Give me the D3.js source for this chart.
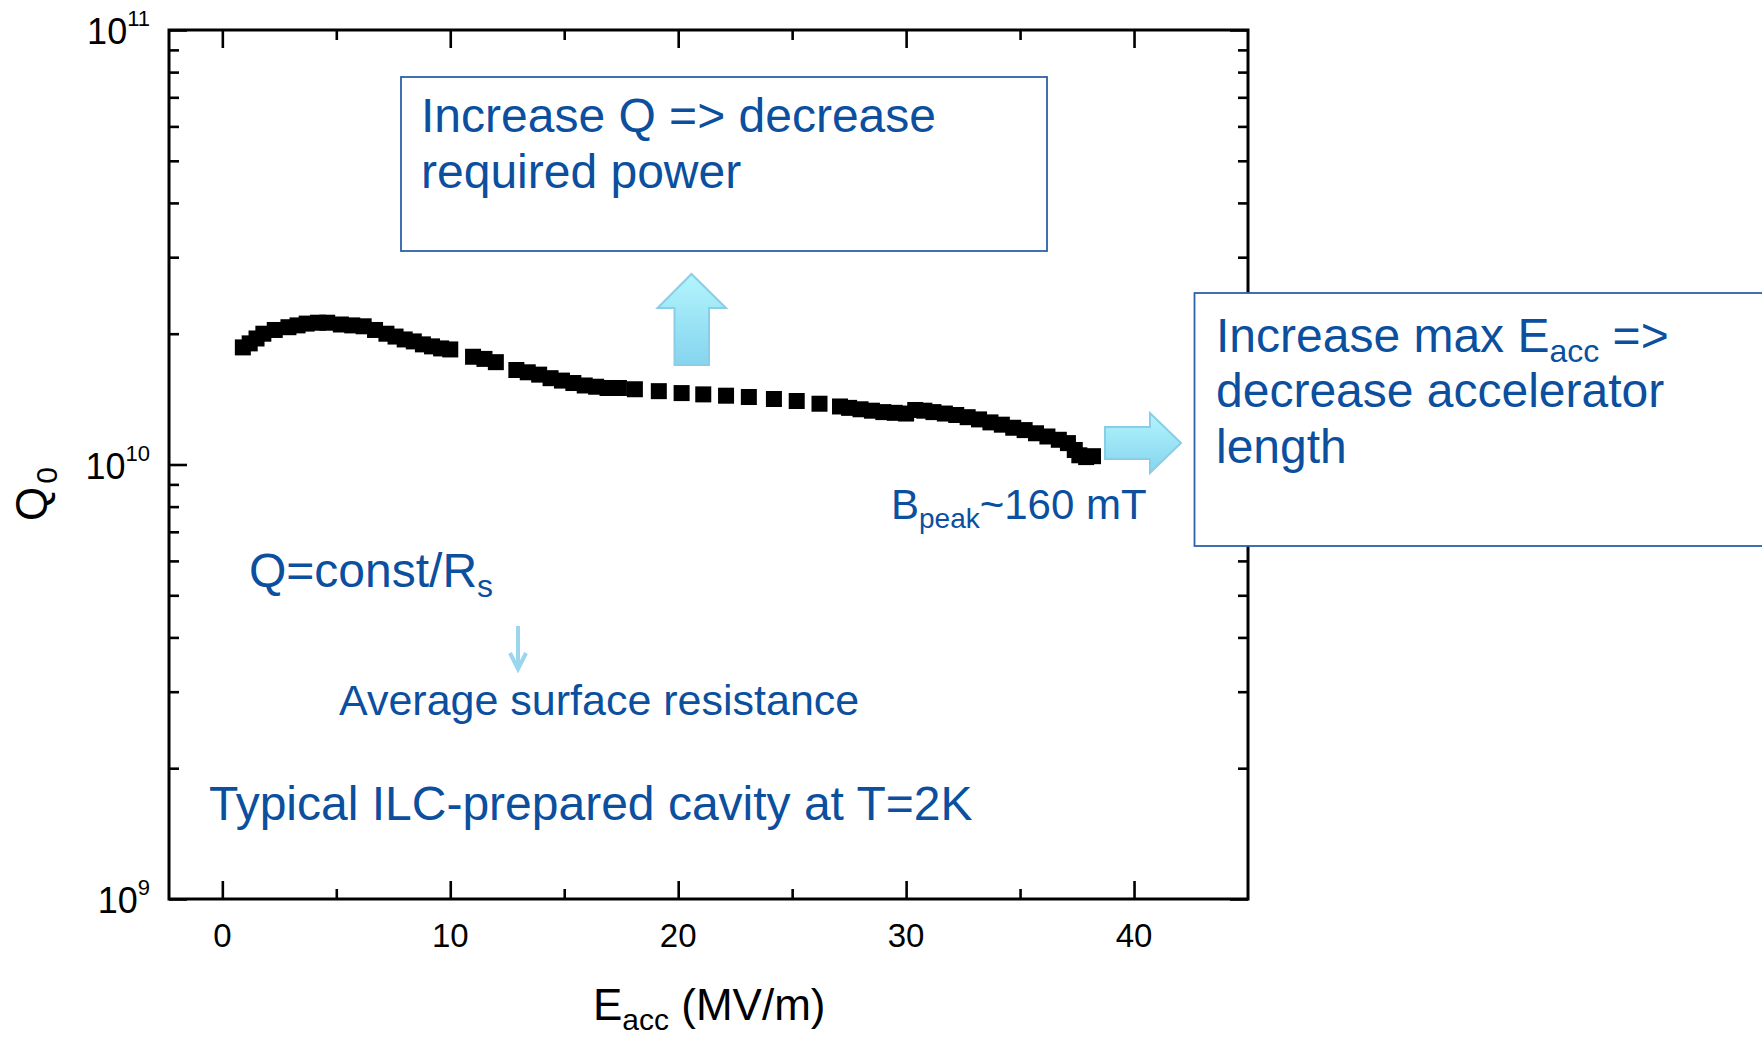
<!DOCTYPE html>
<html>
<head>
<meta charset="utf-8">
<script src="https://cdn.jsdelivr.net/npm/d3@7"></script>
<style>
  html, body { margin: 0; padding: 0; background: #ffffff; }
  svg { display: block; }
  text { font-family: "Liberation Sans", Arial, Helvetica, sans-serif; }
</style>
</head>
<body>
<svg id="chart" width="1762" height="1038"></svg>
<script>
// Q0 vs Eacc for an ILC-style cavity at 2 K (Q in units of 1e10)
const eacc = [0.9, 1.2, 1.5, 1.8, 2.3, 2.9, 3.3, 3.7, 4.2, 4.6, 5.2, 5.7, 6.2, 6.7, 7.2, 7.6, 8.0, 8.4, 8.8, 9.2, 9.6, 10.0,
              11.0, 11.5, 12.0, 12.9, 13.4, 13.9, 14.4, 14.9, 15.4, 15.9, 16.4, 16.9, 17.4, 18.1, 19.15, 20.15,
              21.1, 22.1, 23.1, 24.2, 25.2, 26.2, 27.1, 27.5, 28.0, 28.5, 29.0, 29.5, 30.0, 30.4, 30.8, 31.2, 31.7, 32.2,
              32.7, 33.2, 33.7, 34.2, 34.7, 35.2, 35.7, 36.2, 36.7, 37.1, 37.4, 37.6, 37.9, 38.2];
const q0e10 = [1.86, 1.90, 1.95, 2.00, 2.04, 2.07, 2.09, 2.11, 2.12, 2.12, 2.10, 2.09, 2.08, 2.04, 2.00, 1.97, 1.94, 1.92, 1.89, 1.87, 1.85, 1.84,
               1.77, 1.75, 1.72, 1.65, 1.63, 1.61, 1.58, 1.56, 1.54, 1.52, 1.51, 1.50, 1.50, 1.49, 1.475, 1.46,
               1.45, 1.44, 1.43, 1.415, 1.40, 1.38, 1.36, 1.35, 1.34, 1.33, 1.32, 1.315, 1.31, 1.335, 1.33, 1.32, 1.31, 1.30,
               1.285, 1.27, 1.25, 1.235, 1.215, 1.20, 1.18, 1.16, 1.14, 1.12, 1.08, 1.05, 1.04, 1.045];

const xMajorTicks = [0, 10, 20, 30, 40];
const xMinorTicks = [5, 15, 25, 35];
const yDecades = [1e9, 1e10, 1e11];
const yDecadeLabels = [["10", "9"], ["10", "10"], ["10", "11"]];

const svg = d3.select("#chart");
const plot = { left: 169, right: 1248, top: 30, bottom: 899 };

const x = d3.scaleLinear().domain([-2.34, 45]).range([plot.left, plot.right]);
const y = d3.scaleLog().domain([1e9, 1e11]).range([plot.bottom, plot.top]);

const yMinor = [];
[1e9, 1e10].forEach(d => { for (let k = 2; k <= 9; k++) yMinor.push(d * k); });

const BLUE = "#0B4F9E";

// ---- axes: inward ticks on all four sides ----
function styleAxis(g) {
  g.select(".domain").remove();
  g.selectAll(".tick line").attr("stroke", "#000").attr("stroke-width", 2.6);
  g.selectAll(".tick text").remove();
}
const MAJ = 18, MIN = 10;
svg.append("g").attr("transform", `translate(0,${plot.bottom})`)
  .call(d3.axisBottom(x).tickValues(xMajorTicks).tickSize(-MAJ)).call(styleAxis);
svg.append("g").attr("transform", `translate(0,${plot.bottom})`)
  .call(d3.axisBottom(x).tickValues(xMinorTicks).tickSize(-MIN)).call(styleAxis);
svg.append("g").attr("transform", `translate(0,${plot.top})`)
  .call(d3.axisTop(x).tickValues(xMajorTicks).tickSize(-MAJ)).call(styleAxis);
svg.append("g").attr("transform", `translate(0,${plot.top})`)
  .call(d3.axisTop(x).tickValues(xMinorTicks).tickSize(-MIN)).call(styleAxis);
svg.append("g").attr("transform", `translate(${plot.left},0)`)
  .call(d3.axisLeft(y).tickValues(yDecades).tickSize(-MAJ)).call(styleAxis);
svg.append("g").attr("transform", `translate(${plot.left},0)`)
  .call(d3.axisLeft(y).tickValues(yMinor).tickSize(-MIN)).call(styleAxis);
svg.append("g").attr("transform", `translate(${plot.right},0)`)
  .call(d3.axisRight(y).tickValues(yDecades).tickSize(-MAJ)).call(styleAxis);
svg.append("g").attr("transform", `translate(${plot.right},0)`)
  .call(d3.axisRight(y).tickValues(yMinor).tickSize(-MIN)).call(styleAxis);

// frame
svg.append("rect")
  .attr("x", plot.left).attr("y", plot.top)
  .attr("width", plot.right - plot.left).attr("height", plot.bottom - plot.top)
  .attr("fill", "none").attr("stroke", "#000").attr("stroke-width", 3);

// x tick labels
svg.append("g").selectAll("text").data(xMajorTicks).join("text")
  .attr("x", d => x(d)).attr("y", plot.bottom + 48)
  .attr("text-anchor", "middle").attr("font-size", 33).attr("fill", "#000")
  .text(d => d);

// y tick labels with superscript exponent
const yl = svg.append("g").selectAll("text").data(yDecades).join("text")
  .attr("x", 150).attr("y", d => y(d) + 14)
  .attr("text-anchor", "end").attr("font-size", 36).attr("fill", "#000");
yl.append("tspan").text((d, i) => yDecadeLabels[i][0]);
yl.append("tspan").attr("font-size", 22).attr("dy", -18).text((d, i) => yDecadeLabels[i][1]);

// axis titles
const xt = svg.append("text").attr("x", 593).attr("y", 1020).attr("font-size", 44).attr("fill", "#000");
xt.append("tspan").text("E");
xt.append("tspan").attr("font-size", 30).attr("dy", 10).text("acc");
xt.append("tspan").attr("dy", -10).text(" (MV/m)");

const yt = svg.append("text").attr("transform", "translate(47,521) rotate(-90)")
  .attr("font-size", 44).attr("fill", "#000");
yt.append("tspan").text("Q");
yt.append("tspan").attr("font-size", 30).attr("dy", 10).attr("dx", 3).text("0");

// ---- data: black square markers ----
const SQ = 16;
svg.append("g").selectAll("rect").data(eacc).join("rect")
  .attr("x", (d, i) => x(d) - SQ / 2)
  .attr("y", (d, i) => y(q0e10[i] * 1e10) - SQ / 2)
  .attr("width", SQ).attr("height", SQ)
  .attr("fill", "#000");

// ---- gradient arrows ----
const defs = svg.append("defs");
const grad = defs.append("linearGradient").attr("id", "cyanGrad")
  .attr("x1", 0).attr("y1", 0).attr("x2", 0).attr("y2", 1);
grad.append("stop").attr("offset", "0%").attr("stop-color", "#B2F5FC");
grad.append("stop").attr("offset", "100%").attr("stop-color", "#86D4EF");

// ---- text boxes (white fill hides the frame behind them) ----
svg.append("rect").attr("x", 401).attr("y", 77).attr("width", 646).attr("height", 174)
  .attr("fill", "#fff").attr("stroke", "#2B62AA").attr("stroke-width", 1.8);
svg.append("rect").attr("x", 1194.5).attr("y", 293).attr("width", 600).attr("height", 253)
  .attr("fill", "#fff").attr("stroke", "#2B62AA").attr("stroke-width", 1.8);

// upward arrow
svg.append("path")
  .attr("d", "M691.5,274 L726,308 L709,308 L709,365 L674.5,365 L674.5,308 L657.5,308 Z")
  .attr("fill", "url(#cyanGrad)").attr("stroke", "#8ACDE6").attr("stroke-width", 2);
// rightward arrow
svg.append("path")
  .attr("d", "M1105,427 L1150,427 L1150,413 L1181,443 L1150,473 L1150,459 L1105,459 Z")
  .attr("fill", "url(#cyanGrad)").attr("stroke", "#8ACDE6").attr("stroke-width", 2);

function blueText(xp, yp, size, str) {
  return svg.append("text").attr("x", xp).attr("y", yp).attr("font-size", size)
    .attr("fill", BLUE).text(str);
}
blueText(421, 132, 48, "Increase Q => decrease");
blueText(421, 188, 48, "required power");

const b2 = svg.append("text").attr("x", 1216).attr("y", 352).attr("font-size", 48).attr("fill", BLUE);
b2.append("tspan").text("Increase max E");
b2.append("tspan").attr("font-size", 32).attr("dy", 10).text("acc");
b2.append("tspan").attr("dy", -10).text(" =>");
blueText(1216, 407, 48, "decrease accelerator");
blueText(1216, 463, 48, "length");

const bp = svg.append("text").attr("x", 891).attr("y", 519).attr("font-size", 42).attr("fill", BLUE);
bp.append("tspan").text("B");
bp.append("tspan").attr("font-size", 28).attr("dy", 9).text("peak");
bp.append("tspan").attr("dy", -9).text("~160 mT");

const qc = svg.append("text").attr("x", 249).attr("y", 587).attr("font-size", 48).attr("fill", BLUE);
qc.append("tspan").text("Q=const/R");
qc.append("tspan").attr("font-size", 32).attr("dy", 10).text("s");

// small down arrow
svg.append("line").attr("x1", 518).attr("y1", 626).attr("x2", 518).attr("y2", 666)
  .attr("stroke", "#9AD6EC").attr("stroke-width", 4);
svg.append("path").attr("d", "M510,653 L518,669 L526,653")
  .attr("fill", "none").attr("stroke", "#9AD6EC").attr("stroke-width", 4);

blueText(339, 715, 43, "Average surface resistance");
blueText(209, 820, 48, "Typical ILC-prepared cavity at T=2K");
</script>
</body>
</html>
